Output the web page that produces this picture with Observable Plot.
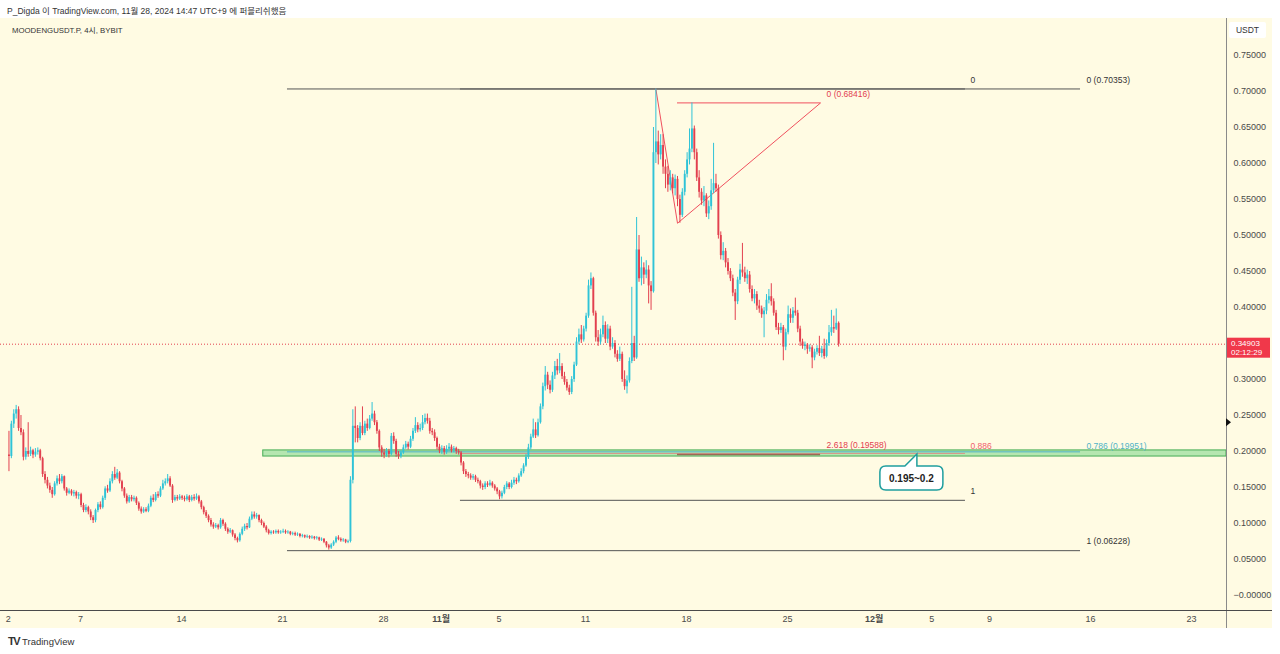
<!DOCTYPE html>
<html><head><meta charset="utf-8">
<script src="https://cdn.jsdelivr.net/npm/d3@7"></script>
<script src="https://cdn.jsdelivr.net/npm/@observablehq/plot@0.6"></script>
<style>
body{margin:0;width:1280px;height:654px;overflow:hidden;background:#fff;font-family:"Liberation Sans",Roboto,"Noto Sans CJK KR",sans-serif;position:relative;}
#hdr{position:absolute;left:7px;top:4px;font-size:8.5px;color:#333;white-space:nowrap;}
#wrap{position:absolute;left:0;top:18px;width:1272px;height:610px;background:#fffbe3;}
#sym{position:absolute;left:12px;top:6px;font-size:7.8px;color:#333;white-space:nowrap;}
#ftr{position:absolute;left:8px;top:635px;font-size:9.5px;color:#333;white-space:nowrap;}
#ftr b{font-size:11px;letter-spacing:-1.5px;margin-right:3px;font-weight:900;}
</style></head>
<body>
<div id="hdr">P_Digda 이 TradingView.com, 11월 28, 2024 14:47 UTC+9 에 퍼블리쉬했음</div>
<div id="wrap"><div id="chart"></div><div id="sym">MOODENGUSDT.P, 4시, BYBIT</div></div>
<div id="ftr"><b>TV</b>TradingView</div>
<script>
// ---- data (4h candles, MOODENGUSDT.P, BYBIT) ----
const firstBar = "2024-10-02T01:00Z";
const barHours = 4;
const opens = [
.195,.193,.238,.252,.258,.232, .226,.192,.200,.196,.201,.195, .199,.201,.190,.168,.160,.152, .146,.140,.155,.162,.158,.165,
.148,.142,.145,.141,.143,.138, .140,.125,.118,.122,.116,.108, .104,.118,.126,.122,.135,.148, .145,.158,.168,.163,.170,.158,
.148,.138,.130,.136,.133,.135, .128,.120,.116,.119,.117,.124, .135,.132,.140,.138,.148,.155, .158,.162,.152,.132,.136,.134,
.137,.135,.133,.137,.132,.136, .134,.137,.130,.122,.115,.110, .104,.098,.095,.097,.094,.104, .099,.092,.088,.090,.084,.079,
.076,.085,.092,.096,.094,.106, .112,.109,.111,.104,.100,.095, .090,.086,.088,.087,.089,.087, .088,.089,.087,.088,.085,.086,
.084,.085,.082,.083,.081,.082, .080,.081,.079,.080,.077,.078, .074,.069,.066,.070,.074,.080, .078,.076,.077,.074,.075,.160,
.235,.232,.218,.235,.225,.238, .232,.245,.252,.240,.228,.205, .198,.195,.200,.196,.221,.214, .196,.193,.198,.205,.210,.206,
.217,.228,.236,.230,.232,.240, .246,.242,.228,.226,.218,.206, .201,.204,.199,.203,.206,.201, .204,.200,.198,.184,.172,.168,
.166,.163,.165,.160,.158,.152, .150,.155,.153,.156,.152,.148, .144,.137,.142,.150,.155,.150, .156,.160,.158,.166,.172,.180,
.192,.205,.220,.230,.222,.240, .262,.290,.306,.292,.285,.305, .318,.312,.318,.304,.296,.288, .282,.300,.320,.352,.362,.355,
.370,.388,.430,.440,.392,.358, .352,.362,.375,.356,.370,.345, .350,.335,.328,.335,.300,.290, .298,.325,.350,.330,.480,.440,
.455,.445,.452,.430,.422,.615, .630,.612,.625,.595,.585,.570, .580,.565,.578,.550,.528,.560, .585,.605,.620,.648,.615,.580,
.560,.548,.555,.530,.540,.562, .572,.565,.500,.472,.478,.462, .450,.440,.420,.408,.438,.452, .448,.440,.445,.425,.412,.418,
.402,.398,.390,.395,.410,.415, .408,.392,.372,.368,.372,.345, .365,.390,.385,.395,.392,.370, .352,.346,.348,.342,.344,.330,
.338,.343,.336,.342,.332,.350, .365,.372,.370,.378];
const highs = [
.228,.242,.258,.264,.262,.250, .230,.205,.240,.206,.203,.204, .205,.203,.192,.172,.164,.156, .150,.158,.166,.168,.168,.166,
.150,.148,.147,.146,.145,.143, .142,.128,.126,.124,.119,.111, .120,.129,.130,.138,.151,.153, .162,.172,.178,.175,.172,.160,
.150,.141,.139,.139,.138,.137, .130,.123,.122,.122,.127,.138, .140,.143,.144,.151,.160,.162, .168,.165,.154,.139,.139,.140,
.139,.138,.140,.139,.139,.140, .141,.139,.132,.124,.118,.112, .107,.101,.100,.099,.107,.106, .101,.094,.093,.091,.086,.081,
.087,.095,.099,.100,.109,.116, .116,.114,.112,.106,.102,.097, .092,.090,.090,.091,.091,.090, .092,.091,.090,.089,.088,.088,
.087,.086,.085,.084,.084,.083, .083,.082,.082,.081,.080,.079, .075,.071,.072,.076,.082,.083, .080,.079,.078,.077,.165,.258,
.262,.236,.240,.262,.242,.245, .250,.268,.256,.243,.230,.208, .203,.204,.203,.225,.226,.217, .200,.201,.209,.214,.213,.221,
.232,.247,.240,.238,.250,.252, .252,.246,.232,.230,.220,.210, .208,.207,.208,.211,.209,.207, .206,.203,.200,.186,.175,.171,
.169,.168,.167,.163,.160,.155, .158,.158,.160,.158,.154,.150, .146,.145,.153,.158,.157,.160, .164,.163,.169,.176,.183,.196,
.210,.224,.245,.240,.245,.266, .295,.318,.310,.298,.310,.325, .328,.336,.322,.310,.300,.292, .304,.324,.358,.370,.375,.374,
.392,.438,.448,.442,.395,.368, .370,.388,.380,.376,.374,.358, .354,.340,.345,.338,.312,.305, .330,.428,.360,.525,.500,.470,
.462,.465,.458,.436,.650,.70353, .645,.640,.640,.605,.596,.590, .585,.584,.582,.556,.565,.590, .615,.648,.68416,.652,.620,.590,
.565,.568,.558,.548,.578,.628, .585,.570,.505,.490,.482,.468, .454,.445,.425,.442,.460,.489, .456,.452,.450,.430,.425,.422,
.410,.402,.400,.418,.425,.433, .412,.396,.378,.378,.375,.370, .402,.398,.400,.413,.396,.374, .356,.352,.350,.348,.347,.342,
.347,.360,.346,.356,.355,.375, .396,.388,.398,.380];
const lows = [
.172,.190,.232,.245,.228,.222, .187,.188,.192,.193,.190,.192, .195,.187,.164,.155,.148,.142, .135,.138,.152,.154,.155,.145,
.138,.140,.138,.137,.134,.133, .122,.115,.115,.112,.104,.100, .101,.115,.119,.120,.132,.142, .143,.155,.160,.161,.155,.144,
.135,.127,.128,.130,.130,.125, .117,.113,.114,.115,.115,.122, .129,.130,.135,.136,.146,.152, .155,.150,.128,.130,.131,.132,
.132,.130,.131,.129,.130,.131, .132,.127,.119,.112,.107,.101, .095,.092,.093,.091,.092,.096, .089,.085,.086,.081,.076,.073,
.074,.083,.089,.091,.093,.104, .106,.106,.101,.097,.093,.087, .084,.084,.085,.085,.085,.085, .086,.085,.085,.083,.083,.082,
.082,.080,.080,.079,.079,.078, .078,.077,.077,.075,.075,.072, .066,.063,.064,.068,.072,.076, .074,.074,.072,.072,.073,.155,
.212,.212,.215,.222,.222,.228, .230,.242,.236,.224,.200,.192, .190,.192,.191,.194,.210,.192, .189,.190,.196,.203,.202,.204,
.214,.225,.226,.227,.229,.237, .238,.224,.222,.214,.202,.197, .196,.195,.196,.200,.198,.198, .196,.195,.180,.168,.164,.162,
.160,.160,.157,.155,.148,.146, .147,.150,.151,.149,.145,.140, .133,.134,.140,.147,.147,.148, .153,.154,.156,.164,.169,.178,
.189,.202,.218,.218,.220,.238, .258,.284,.286,.280,.282,.300, .306,.308,.300,.292,.284,.278, .279,.296,.318,.348,.350,.352,
.366,.385,.425,.388,.352,.346, .348,.358,.350,.350,.340,.342, .330,.324,.325,.296,.285,.280, .295,.322,.325,.328,.435,.430,
.432,.440,.405,.396,.420,.600, .598,.605,.585,.565,.560,.562, .558,.555,.540,.51702,.525,.555, .580,.598,.615,.605,.575,.552,
.542,.540,.525,.522,.535,.558, .560,.495,.466,.465,.455,.445, .436,.415,.382,.404,.432,.442, .435,.432,.420,.408,.405,.396,
.392,.385,.358,.390,.405,.402, .388,.368,.362,.364,.326,.340, .362,.378,.378,.388,.365,.346, .342,.340,.335,.338,.315,.326,
.334,.332,.330,.328,.330,.346, .360,.364,.368,.345];
const closes = [
.193,.238,.252,.258,.232,.226, .192,.200,.196,.201,.195,.199, .201,.190,.168,.160,.152,.146, .140,.155,.162,.158,.165,.148,
.142,.145,.141,.143,.138,.140, .125,.118,.122,.116,.108,.104, .118,.126,.122,.135,.148,.145, .158,.168,.163,.170,.158,.148,
.138,.130,.136,.133,.135,.128, .120,.116,.119,.117,.124,.135, .132,.140,.138,.148,.155,.158, .162,.152,.132,.136,.134,.137,
.135,.133,.137,.132,.136,.134, .137,.130,.122,.115,.110,.104, .098,.095,.097,.094,.104,.099, .092,.088,.090,.084,.079,.076,
.085,.092,.096,.094,.106,.112, .109,.111,.104,.100,.095,.090, .086,.088,.087,.089,.087,.088, .089,.087,.088,.085,.086,.084,
.085,.082,.083,.081,.082,.080, .081,.079,.080,.077,.078,.074, .069,.066,.070,.074,.080,.078, .076,.077,.074,.075,.160,.235,
.232,.218,.235,.225,.238,.232, .245,.252,.240,.228,.205,.198, .195,.200,.196,.221,.214,.196, .193,.198,.205,.210,.206,.217,
.228,.236,.230,.232,.240,.246, .242,.228,.226,.218,.206,.201, .204,.199,.203,.206,.201,.204, .200,.198,.184,.172,.168,.166,
.163,.165,.160,.158,.152,.150, .155,.153,.156,.152,.148,.144, .137,.142,.150,.155,.150,.156, .160,.158,.166,.172,.180,.192,
.205,.220,.230,.222,.240,.262, .290,.306,.292,.285,.305,.318, .312,.318,.304,.296,.288,.282, .300,.320,.352,.362,.355,.370,
.388,.430,.440,.392,.358,.352, .362,.375,.356,.370,.345,.350, .335,.328,.335,.300,.290,.298, .325,.350,.330,.480,.440,.455,
.445,.452,.430,.422,.615,.630, .612,.625,.595,.585,.570,.580, .565,.578,.550,.528,.560,.585, .605,.620,.648,.615,.580,.560,
.548,.555,.530,.540,.562,.572, .565,.500,.472,.478,.462,.450, .440,.420,.408,.438,.452,.448, .440,.445,.425,.412,.418,.402,
.398,.390,.395,.410,.415,.408, .392,.372,.368,.372,.345,.365, .390,.385,.395,.392,.370,.352, .346,.348,.342,.344,.330,.338,
.343,.336,.342,.332,.350,.365, .372,.370,.378,.34903];

// axis ticks (0.35 is hidden behind the last-price label in the reference)
const yTicks = [0,0.05,0.1,0.15,0.2,0.25,0.3,0.4,0.45,0.5,0.55,0.6,0.65,0.7,0.75];
const yTickLabels = ["−0.00000","0.05000","0.10000","0.15000","0.20000","0.25000","0.30000","0.40000","0.45000","0.50000","0.55000","0.60000","0.65000","0.70000","0.75000"];
const xTickDates = ["2024-10-02","2024-10-07","2024-10-14","2024-10-21","2024-10-28","2024-11-01","2024-11-05","2024-11-11","2024-11-18","2024-11-25","2024-12-01","2024-12-05","2024-12-09","2024-12-16","2024-12-23"];
const xTickLabels = ["2","7","14","21","28","11월","5","11","18","25","12월","5","9","16","23"];
const viewStart = "2024-10-01T10:56Z", viewEnd = "2024-12-25T10:09Z";
const yView = [-0.0208333, 0.8013889];

// drawings
const fibA = {start:"2024-10-21T08:18Z", end:"2024-12-15T07:20Z"};
const fibAPrices = [0.70353, 0.06228, 0.19951];
const fibALabels = ["0 (0.70353)", "1 (0.06228)", "0.786 (0.19951)"];
const fibB = {start:"2024-11-02T08:00Z", end:"2024-12-07T08:00Z"};
const fibBPrices = [0.70353, 0.1322, 0.1973];
const fibBLabels = ["0", "1", "0.886"];
const extTimes = ["2024-11-15T21:00Z", "2024-11-17T09:00Z", "2024-11-27T07:00Z"];
const extPrices = [0.70353, 0.51702, 0.68416];
const extLevelPrices = [0.68416, 0.19588];
const extLabels = ["0 (0.68416)", "2.618 (0.19588)"];
const zone = {start:"2024-10-19T16:00Z", low:0.193, high:0.2015};
const callout = {time:"2024-12-04T00:00Z", price:0.1958, text:"0.195~0.2"};
const lastPrice = 0.34903, countdown = "02:12:29";
const markerPrice = 0.24;

// ---- build ----
const t0 = Date.parse(firstBar);
const bars = closes.map((c, i) => ({
  t: new Date(t0 + i * barHours * 3600e3), o: opens[i], h: highs[i], l: lows[i], c, up: c >= opens[i]
}));
const UP = "#2fc3d7", DN = "#e2404f";
const D = s => new Date(s);
const GRAY = "#555";
const fibAData = fibAPrices.map((p, i) => ({p, lab: fibALabels[i], col: i === 2 ? "#4fb3c7" : GRAY, main: i < 2}));
const fibBData = fibBPrices.map((p, i) => ({p, lab: fibBLabels[i], col: i === 2 ? "#f0616d" : GRAY, main: i < 2}));
const extData = extLevelPrices.map((p, i) => ({p, lab: extLabels[i], col: i === 0 ? "#f0505e" : "#9a6a55", w: i === 0 ? 1 : 1.6}));
const extPath = extTimes.map((t, i) => ({t: D(t), p: extPrices[i]}));
const xTicks = xTickDates.map(D);

const chart = Plot.plot({
  width: 1272, height: 610,
  marginLeft: 0, marginRight: 46, marginTop: 0, marginBottom: 18,
  style: {background: "transparent", overflow: "visible", fontFamily: '"Liberation Sans",Roboto,"Noto Sans CJK KR",sans-serif', fontSize: "9.5px", color: "#4a4a4a"},
  x: {type: "utc", domain: [D(viewStart), D(viewEnd)], label: null},
  y: {domain: yView, label: null},
  marks: [
    Plot.rect([zone], {x1: d => D(d.start), x2: D(viewEnd), y1: "low", y2: "high", fill: "#b5e6b0", stroke: "#45ad55", strokeWidth: 1}),
    Plot.ruleY(fibAData, {y: "p", x1: D(fibA.start), x2: D(fibA.end), stroke: "col", strokeWidth: 1}),
    Plot.ruleY(fibBData, {y: "p", x1: D(fibB.start), x2: D(fibB.end), stroke: "col", strokeWidth: 1, strokeOpacity: d => d.main ? 1 : 0.6}),
    Plot.ruleY(extData, {y: "p", x1: D(extTimes[1]), x2: D(extTimes[2]), stroke: "col", strokeWidth: "w"}),
    Plot.line(extPath, {x: "t", y: "p", stroke: "#f0505e", strokeWidth: 1}),
    Plot.ruleY([lastPrice], {stroke: "#e2404f", strokeDasharray: "1,2", strokeWidth: 1}),
    Plot.ruleX(bars, {x: "t", y1: d => Math.min(d.l, d.o, d.c), y2: d => Math.max(d.h, d.o, d.c), stroke: d => d.up ? UP : DN, strokeWidth: 1}),
    Plot.ruleX(bars, {x: "t", y1: "o", y2: "c", stroke: d => d.up ? UP : DN, strokeWidth: 1.9}),
    Plot.text(fibAData, {filter: d => d.main, x: D(fibA.end), y: "p", text: "lab", textAnchor: "start", dx: 6, dy: -9, fill: "#333", fontSize: 8.5}),
    Plot.text(fibAData, {filter: d => !d.main, x: D(fibA.end), y: "p", text: "lab", textAnchor: "start", dx: 6, dy: -6, fill: "#4fb3c7", fontSize: 8.5}),
    Plot.text(fibBData, {filter: d => d.main, x: D(fibB.end), y: "p", text: "lab", textAnchor: "start", dx: 5, dy: -9, fill: "#333", fontSize: 8.5}),
    Plot.text(fibBData, {filter: d => !d.main, x: D(fibB.end), y: "p", text: "lab", textAnchor: "start", dx: 5, dy: -7, fill: "#f0616d", fontSize: 8.5}),
    Plot.text(extData, {x: D(extTimes[2]), y: "p", text: "lab", textAnchor: "start", dx: 6, dy: -9, fill: "#e2404f", fontSize: 8.5}),
    Plot.axisY({anchor: "right", ticks: yTicks, tickFormat: d => yTickLabels[yTicks.indexOf(d)], tickSize: 0, tickPadding: 7, textAnchor: "start", fill: "#4a4a4a", fontSize: 9, label: null}),
    Plot.axisX({anchor: "bottom", ticks: xTicks, tickFormat: d => xTickLabels[xTickDates.indexOf(d.toISOString().slice(0,10))], tickSize: 0, tickPadding: 5, fill: "#4a4a4a", fontSize: 9, label: null})
  ]
});
document.getElementById("chart").appendChild(chart);

d3.select(chart).selectAll("text").filter(function(){return this.textContent === "11월" || this.textContent === "12월";}).attr("font-weight", "bold");

// overlays through the chart's scales
const X = chart.scale("x"), Y = chart.scale("y");
const svg = d3.select(chart);
const g = svg.append("g").attr("text-anchor", "start");
const fx = X.range[1];
// separators
g.append("line").attr("x1", fx + 0.5).attr("x2", fx + 0.5).attr("y1", 0).attr("y2", 610).attr("stroke", "#8a8a8a");
g.append("line").attr("x1", 0).attr("x2", 1272).attr("y1", Y.range[0] + 0.5).attr("y2", Y.range[0] + 0.5).attr("stroke", "#4a4a4a");
// callout
const tx = X.apply(D(callout.time)), ty = Y.apply(callout.price);
const bw = 63, bh = 24, r = 6, L = tx - 37, T = ty + 12, R = L + bw, B = T + bh;
g.append("path").attr("d", `M${L+r},${T} L${tx-12},${T} L${tx},${ty} L${tx},${T} L${R-r},${T} Q${R},${T} ${R},${T+r} L${R},${B-r} Q${R},${B} ${R-r},${B} L${L+r},${B} Q${L},${B} ${L},${B-r} L${L},${T+r} Q${L},${T} ${L+r},${T} Z`)
  .attr("fill", "#fff").attr("stroke", "#1f9e9e").attr("stroke-width", 1.5);
g.append("text").attr("x", L + bw/2).attr("y", T + bh/2).attr("text-anchor", "middle").attr("dominant-baseline", "central")
  .attr("font-size", 10).attr("font-weight", "bold").attr("fill", "#222").text(callout.text);
// last price label
const yp = Y.apply(lastPrice);
g.append("rect").attr("x", fx + 1).attr("y", yp - 6).attr("width", 43).attr("height", 20).attr("fill", "#f0384a");
g.append("text").attr("x", fx + 5).attr("y", yp - 0.5).attr("text-anchor", "start").attr("dominant-baseline", "central").attr("font-size", 8).attr("fill", "#fff").text(lastPrice.toFixed(5));
g.append("text").attr("x", fx + 5).attr("y", yp + 9).attr("text-anchor", "start").attr("dominant-baseline", "central").attr("font-size", 8).attr("fill", "#fff").text(countdown);
// USDT box
g.append("rect").attr("x", fx + 3).attr("y", 4).attr("width", 37).attr("height", 16).attr("rx", 2).attr("fill", "#fff");
g.append("text").attr("x", fx + 21.5).attr("y", 12).attr("text-anchor", "middle").attr("dominant-baseline", "central").attr("font-size", 8.5).attr("fill", "#333").text("USDT");
// marker triangle
const ym = Y.apply(markerPrice);
g.append("path").attr("d", `M${fx},${ym-4} L${fx+5},${ym} L${fx},${ym+4} Z`).attr("fill", "#111");
</script>
</body></html>
